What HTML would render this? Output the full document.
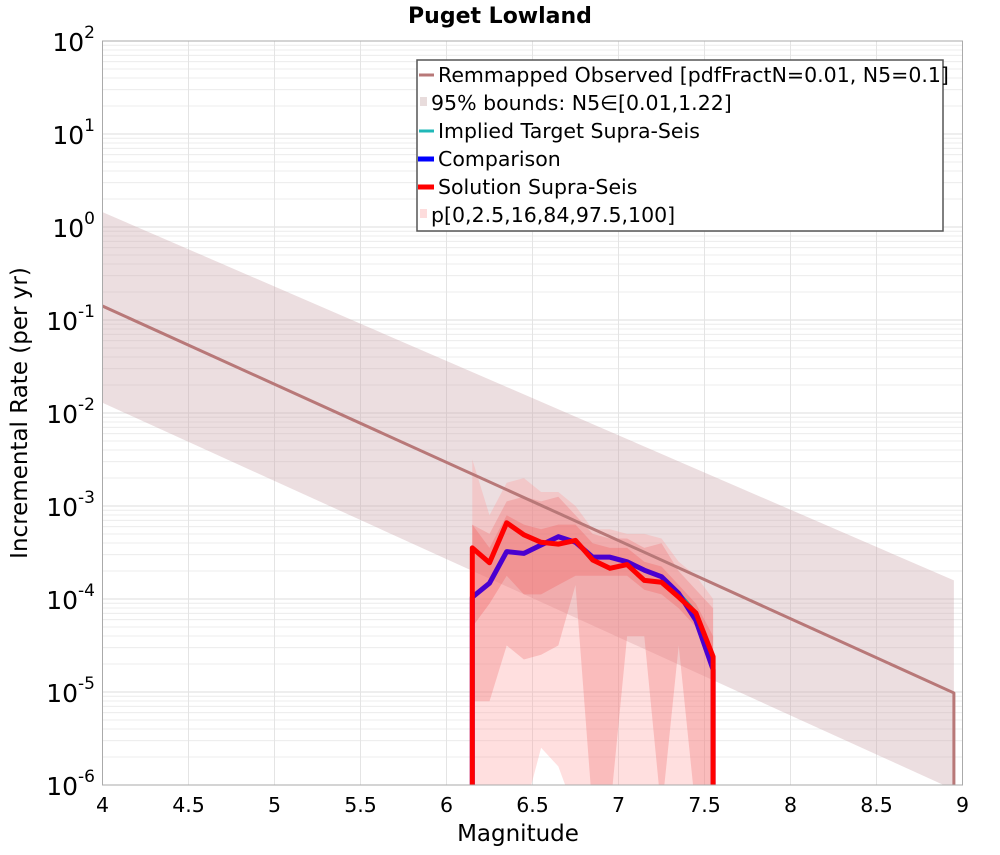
<!DOCTYPE html>
<html><head><meta charset="utf-8"><style>
body{margin:0;background:#fff;width:1000px;height:850px;overflow:hidden}
svg{font-family:"DejaVu Sans","Liberation Sans",sans-serif}
</style></head><body>
<svg id="chart" width="1000" height="850">
<defs><clipPath id="clip"><rect x="102.5" y="41" width="860" height="744"/></clipPath></defs>
<text x="500" y="23" text-anchor="middle" font-size="22" font-weight="bold">Puget Lowland</text>
<g id="grid"></g>
<g id="bands" clip-path="url(#clip)"></g>
<g id="lines" clip-path="url(#clip)"></g>
<rect x="102.5" y="41" width="860" height="744" fill="none" stroke="#aaa" stroke-width="1"/>
<g id="axes"></g>
<text x="518" y="841" text-anchor="middle" font-size="23">Magnitude</text>
<text transform="translate(27,413) rotate(-90)" text-anchor="middle" font-size="23">Incremental Rate (per yr)</text>
<g>
<rect x="417" y="60" width="526" height="171" fill="#fff" stroke="#555" stroke-width="1.5"/>
<g font-size="20.5">
<line x1="419" y1="75" x2="434" y2="75" stroke="#b87878" stroke-width="3"/>
<text x="438" y="82">Remmapped Observed [pdfFractN=0.01, N5=0.1]</text>
<rect x="420" y="97" width="7" height="9" fill="#e8dcdc"/>
<text x="431" y="110">95% bounds: N5∈[0.01,1.22]</text>
<line x1="419" y1="131" x2="434" y2="131" stroke="#20b8b8" stroke-width="3"/>
<text x="438" y="138">Implied Target Supra-Seis</text>
<line x1="418" y1="159" x2="434" y2="159" stroke="#0000ff" stroke-width="5"/>
<text x="438" y="166">Comparison</text>
<line x1="418" y1="187" x2="434" y2="187" stroke="#ff0000" stroke-width="5"/>
<text x="438" y="194">Solution Supra-Seis</text>
<rect x="420" y="209" width="7" height="9" fill="#fddcdc"/>
<text x="431" y="222">p[0,2.5,16,84,97.5,100]</text>
</g></g>
</svg>
<script>
// data (log10 rates)
const obsMags=[4.0,8.95];
const obsLog=[-0.85,-5.01];
const obsUpLog=[0.16,-3.8];
const obsLoLog=[-1.89,-6.05];
const solMags=[6.15,6.25,6.35,6.45,6.55,6.65,6.75,6.85,6.95,7.05,7.15,7.25,7.35,7.45,7.55];
const solLog=[-3.45,-3.61,-3.18,-3.31,-3.39,-3.41,-3.37,-3.58,-3.67,-3.63,-3.80,-3.82,-3.98,-4.15,-4.62];
const cmpLog=[-3.98,-3.83,-3.49,-3.51,-3.42,-3.33,-3.39,-3.55,-3.55,-3.60,-3.69,-3.76,-3.94,-4.23,-4.76];
const tgtLog=[-3.98,-3.83,-3.49,-3.51,-3.42,-3.33,-3.39,-3.55,-3.55,-3.60,-3.69,-3.76,-3.94,-4.15,-4.65];
const p100=[-2.5,-3.1,-2.75,-2.7,-2.85,-2.85,-3.0,-3.25,-3.25,-3.3,-3.3,-3.35,-3.6,-3.75,-4.0];
const p975=[-3.2,-3.3,-2.95,-2.9,-2.95,-2.9,-3.1,-3.3,-3.35,-3.35,-3.45,-3.4,-3.7,-3.9,-4.1];
const p84=[-3.2,-3.45,-3.1,-3.2,-3.25,-3.2,-3.2,-3.4,-3.45,-3.45,-3.6,-3.65,-3.85,-4.05,-4.4];
const p16=[-4.3,-4.05,-3.75,-3.95,-3.95,-3.85,-3.75,-3.75,-3.75,-3.75,-3.9,-3.95,-4.1,-4.3,-4.7];
const p25=[-5.1,-5.1,-4.5,-4.65,-4.6,-4.5,-3.85,-9,-9,-4.4,-4.4,-9,-4.5,-9,-9];
const p0=[-9,-9,-9,-9,-5.6,-5.8,-9,-9,-9,-9,-9,-9,-9,-9,-9];
const xTicks=[4,4.5,5,5.5,6,6.5,7,7.5,8,8.5,9];
const yExps=[2,1,0,-1,-2,-3,-4,-5,-6];

const NS='http://www.w3.org/2000/svg';
const X=m=>102.5+(m-4)*172;
const Y=l=>41+(2-Math.max(l,-6.3))*93;
function mk(tag,attrs,parent){const e=document.createElementNS(NS,tag);for(const k in attrs)e.setAttribute(k,attrs[k]);document.getElementById(parent).appendChild(e);return e;}
for(let d=-6;d<2;d++){for(let k=2;k<10;k++){const g=mk('line',{x1:102.5,x2:962.5,y1:Y(d+Math.log10(k)),y2:Y(d+Math.log10(k)),stroke:'#ececec','stroke-width':1},'grid');

}}
yExps.forEach(e=>{const g=mk('line',{x1:102.5,x2:962.5,y1:Y(e),y2:Y(e),stroke:'#ddd','stroke-width':1},'grid');


const t=mk('text',{x:95,y:Y(e)+10,'text-anchor':'end','font-size':25},'axes');


t.innerHTML='10<tspan dy="-13" font-size="17">'+e+'</tspan>';});
xTicks.forEach(m=>{const g=mk('line',{x1:X(m),x2:X(m),y1:41,y2:785,stroke:'#e4e4e4','stroke-width':1},'grid');


const t=mk('text',{x:X(m),y:812,'text-anchor':'middle','font-size':20.5},'axes');


t.textContent=m;});
function band(mags,lo,hi,fill,name){
 const pts=[];mags.forEach((m,i)=>pts.push(X(m)+','+Y(hi[i])));
 for(let i=mags.length-1;i>=0;i--)pts.push(X(mags[i])+','+Y(lo[i]));
 const p=mk('polygon',{points:pts.join(' '),fill:fill},'bands');
 
 }
function line(mags,vals,color,w,name,dropEnd,riseStart){
 const pts=[];if(riseStart)pts.push(X(mags[0])+','+Y(-7));
 mags.forEach((m,i)=>pts.push(X(m)+','+Y(vals[i])));
 if(dropEnd)pts.push(X(mags[mags.length-1])+','+Y(-7));
 const p=mk('polyline',{points:pts.join(' '),fill:'none',stroke:color,'stroke-width':w,'stroke-linejoin':'round'},'lines');
 
 }
band(obsMags,obsLoLog,obsUpLog,'rgba(200,160,165,0.35)','observed-95-band');
band(solMags,p0,p100,'rgba(255,150,150,0.3)','band-p0-p100');
band(solMags,p25,p975,'rgba(240,110,110,0.3)','band-p2.5-p97.5');
band(solMags,p16,p84,'rgba(240,100,100,0.35)','band-p16-p84');
line(obsMags,obsLog,'#b87878',3,'observed-line',true,false);
line(solMags,tgtLog,'#20a0a0',4,'target-line',true,true);
line(solMags,cmpLog,'#4a00d0',5,'comparison-line',true,true);
line(solMags,solLog,'#ff0000',5,'solution-line',true,true);
</script>
</body></html>
